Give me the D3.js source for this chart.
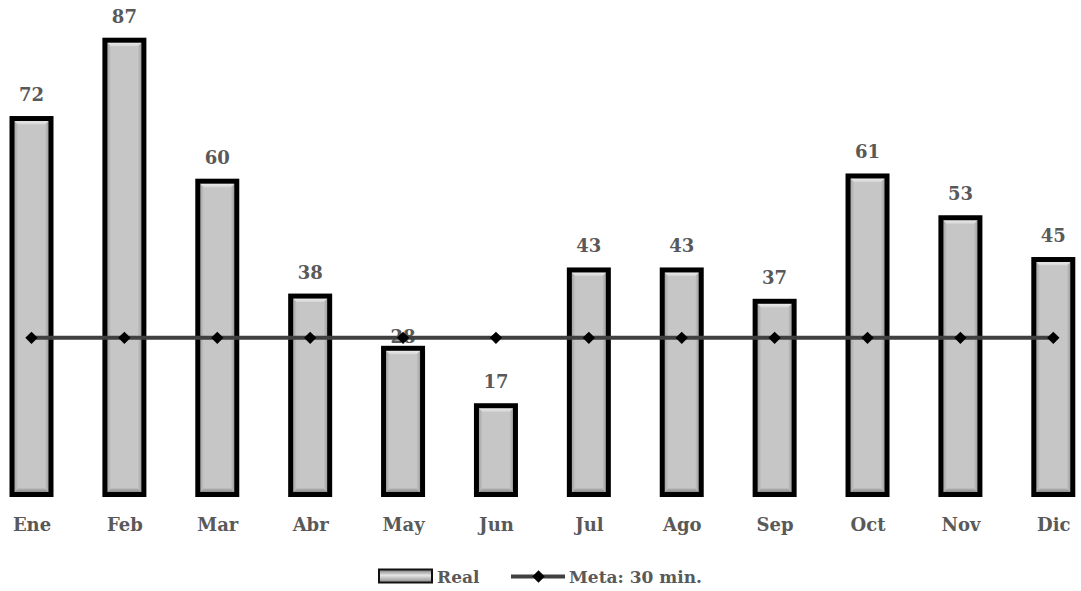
<!DOCTYPE html>
<html>
<head>
<meta charset="utf-8">
<script src="https://cdn.jsdelivr.net/npm/d3@7"></script>
<style>
  html, body { margin: 0; padding: 0; background: #ffffff; }
  svg { display: block; }
</style>
</head>
<body>
<svg id="chart" width="1081" height="591"></svg>
<script>
// Monthly values
const months = ["Ene", "Feb", "Mar", "Abr", "May", "Jun", "Jul", "Ago", "Sep", "Oct", "Nov", "Dic"];
const realValues = [72, 87, 60, 38, 28, 17, 43, 43, 37, 61, 53, 45];
const metaValues = [30, 30, 30, 30, 30, 30, 30, 30, 30, 30, 30, 30];
const legendLabels = ["Real", "Meta: 30 min."];

const W = 1081, H = 591;
const svg = d3.select("#chart");
const FONT = "'DejaVu Serif', 'Liberation Serif', serif";
const TEXT_COLOR = "#595959";

const x = d3.scalePoint().domain(months).range([31.5, 1053.3]);
const y = d3.scaleLinear().domain([0, 94.7]).range([494.5, 0]);
const barW = 39;
const bevel = 6;

// Gradients for the bevelled bar look
const defs = svg.append("defs");
function linGrad(id, x1, y1, x2, y2, stops) {
  const g = defs.append("linearGradient").attr("id", id)
    .attr("x1", x1).attr("y1", y1).attr("x2", x2).attr("y2", y2);
  stops.forEach(s => g.append("stop").attr("offset", s[0]).attr("stop-color", s[1]));
}
linGrad("gTop", 0, 0, 0, 1, [[0, "#fbfbfb"], [1, "#d4d4d4"]]);
linGrad("gLeft", 0, 0, 1, 0, [[0, "#8f8f8f"], [1, "#c4c4c4"]]);
linGrad("gRight", 0, 0, 1, 0, [[0, "#c4c4c4"], [1, "#8a8a8a"]]);
linGrad("gBottom", 0, 0, 0, 1, [[0, "#b0b0b0"], [1, "#7a7a7a"]]);
linGrad("gLegend", 0, 0, 0, 1, [[0, "#7a7a7a"], [0.45, "#e6e6e6"], [1, "#8a8a8a"]]);

// Bars
const bars = svg.append("g").selectAll("g")
  .data(months.map((m, i) => ({ m, v: realValues[i] })))
  .join("g");

bars.each(function (d) {
  const g = d3.select(this);
  const x0 = x(d.m) - barW / 2, x1 = x0 + barW;
  const y0 = y(d.v), y1 = y(0);
  const b = bevel;
  g.append("rect").attr("x", x0).attr("y", y0).attr("width", barW).attr("height", y1 - y0)
    .attr("fill", "#c6c6c6");
  g.append("polygon").attr("fill", "url(#gLeft)")
    .attr("points", [[x0, y0], [x0 + b, y0 + b], [x0 + b, y1 - b], [x0, y1]].join(" "));
  g.append("polygon").attr("fill", "url(#gRight)")
    .attr("points", [[x1, y0], [x1 - b, y0 + b], [x1 - b, y1 - b], [x1, y1]].join(" "));
  g.append("polygon").attr("fill", "url(#gTop)")
    .attr("points", [[x0, y0], [x1, y0], [x1 - b, y0 + b], [x0 + b, y0 + b]].join(" "));
  g.append("polygon").attr("fill", "url(#gBottom)")
    .attr("points", [[x0 + b, y1 - b], [x1 - b, y1 - b], [x1, y1], [x0, y1]].join(" "));
  g.append("rect").attr("x", x0).attr("y", y0).attr("width", barW).attr("height", y1 - y0)
    .attr("fill", "none").attr("stroke", "#000").attr("stroke-width", 5);
});

// Value labels (the May label sits low, under the target line)
const labelGap = m => (m === "May" ? 5.5 : 17.5);
svg.append("g").selectAll("text")
  .data(months.map((m, i) => ({ m, v: realValues[i] })))
  .join("text")
  .attr("x", d => x(d.m))
  .attr("y", d => y(d.v) - labelGap(d.m))
  .attr("text-anchor", "middle")
  .attr("font-family", FONT).attr("font-weight", "bold").attr("font-size", 18)
  .attr("fill", TEXT_COLOR)
  .text(d => d.v);

// Target line with diamond markers
const line = d3.line().x((d, i) => x(months[i])).y(d => y(d));
svg.append("path").datum(metaValues)
  .attr("d", line).attr("fill", "none").attr("stroke", "#404040").attr("stroke-width", 4);
const diamond = d3.symbol().type(d3.symbolDiamond2).size(98);
svg.append("g").selectAll("path")
  .data(metaValues)
  .join("path")
  .attr("transform", (d, i) => `translate(${x(months[i])},${y(d)})`)
  .attr("d", diamond)
  .attr("fill", "#000");

// Category axis labels
const xAxis = d3.axisBottom(x).tickSize(0).tickPadding(0);
const axisG = svg.append("g").attr("transform", "translate(0,518)").call(xAxis);
axisG.select(".domain").remove();
axisG.selectAll("text")
  .attr("font-family", FONT).attr("font-weight", "bold").attr("font-size", 18)
  .attr("fill", TEXT_COLOR).attr("dy", "0.73em");

// Legend
const leg = svg.append("g");
leg.append("rect").attr("x", 379).attr("y", 569.5).attr("width", 53).attr("height", 13)
  .attr("fill", "url(#gLegend)").attr("stroke", "#111").attr("stroke-width", 2);
leg.append("text").attr("x", 437).attr("y", 583)
  .attr("font-family", FONT).attr("font-weight", "bold").attr("font-size", 17)
  .attr("fill", TEXT_COLOR).text(legendLabels[0]);
leg.append("line").attr("x1", 511).attr("x2", 565).attr("y1", 576.5).attr("y2", 576.5)
  .attr("stroke", "#404040").attr("stroke-width", 4);
leg.append("path").attr("transform", "translate(538.5,576.5)").attr("d", diamond).attr("fill", "#000");
leg.append("text").attr("x", 569).attr("y", 583)
  .attr("font-family", FONT).attr("font-weight", "bold").attr("font-size", 17)
  .attr("fill", TEXT_COLOR).text(legendLabels[1]);
</script>
</body>
</html>
